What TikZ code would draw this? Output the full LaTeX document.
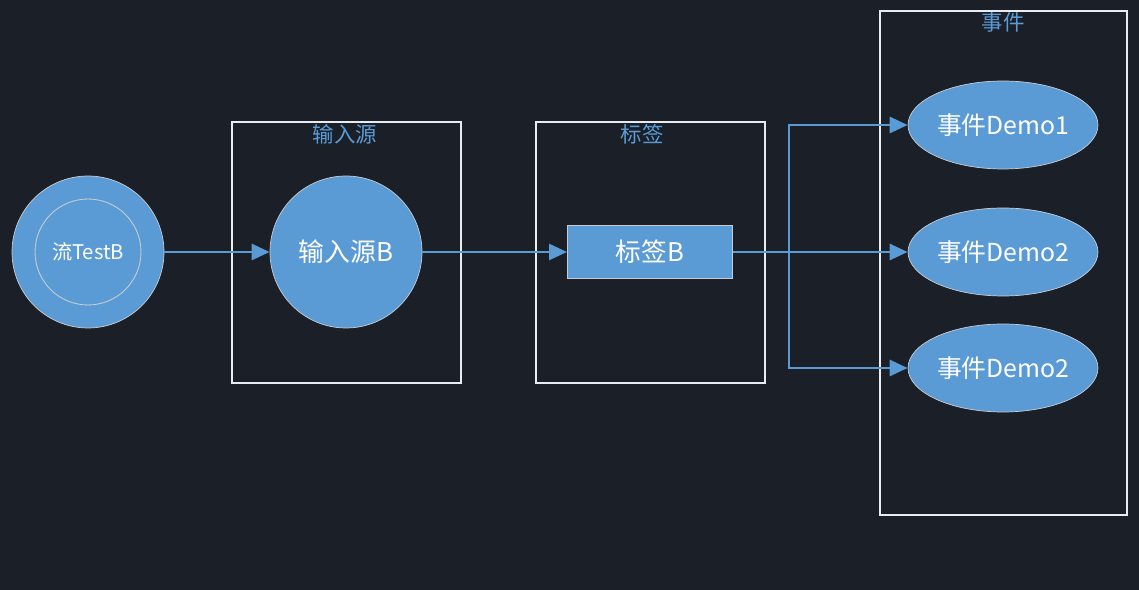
\documentclass[tikz,border=0pt]{standalone}
\usepackage{fontspec}
\setmainfont{Noto Sans CJK SC}
\usetikzlibrary{arrows.meta,shapes.geometric}
\definecolor{bgdark}{HTML}{1A1F28}
\definecolor{nodeblue}{HTML}{5B9BD5}
\definecolor{rimgray}{HTML}{C8CCD0}
\definecolor{framewhite}{HTML}{E8ECF0}
\tikzset{
  flow/.style={draw=nodeblue,line width=1.6pt,-{Triangle[length=0.36cm,width=0.32cm]}},
  group/.style={draw=framewhite,line width=1.2pt},
  grouptitle/.style={text=nodeblue,font=\fontsize{12.2}{14}\selectfont,inner sep=0pt},
  source/.style={circle,fill=nodeblue,draw=rimgray,line width=0.4pt,minimum size=3.04cm,inner sep=0pt,text=white},
  event/.style={ellipse,fill=nodeblue,draw=rimgray,line width=0.4pt,minimum width=3.8cm,minimum height=1.76cm,inner sep=0pt,text=white,font=\fontsize{14.1}{16}\selectfont},
  tagbox/.style={rectangle,fill=nodeblue,draw=rimgray,line width=0.6pt,minimum width=3.3cm,minimum height=1.06cm,inner sep=0pt,text=white,font=\fontsize{14.6}{16}\selectfont}
}
\begin{document}
\begin{tikzpicture}[x=0.02cm,y=-0.02cm]
  \fill[bgdark] (0,0) rectangle (1139,590);
  \useasboundingbox (0,0) rectangle (1139,590);
  % group frames
  \draw[group] (232,122) rectangle (461,383);
  \node[grouptitle] (inTitle) at (345,134) {输入源};
  \draw[group] (536,122) rectangle (765,383);
  \node[grouptitle] (tagTitle) at (642,134) {标签};
  \draw[group] (880,11) rectangle (1127,515);
  \node[grouptitle] (evtTitle) at (1003,22) {事件};
  % nodes
  \node[source] (stream) at (88,252) {};
  \node[circle,draw=rimgray,line width=0.5pt,minimum size=2.12cm,text=white,font=\fontsize{11.5}{13}\selectfont] (streamIn) at (88,252) {流TestB};
  \node[source,font=\fontsize{14.7}{16}\selectfont] (input) at (346,252) {输入源B};
  \node[tagbox] (tag) at (650,252) {标签B};
  \node[event] (evt1) at (1003,125) {事件Demo1};
  \node[event] (evt2) at (1003,252) {事件Demo2};
  \node[event] (evt3) at (1003,368) {事件Demo2};
  \coordinate (split) at (789,252);
  % connectors
  \draw[flow] (stream) -- (input);
  \draw[flow] (input) -- (tag);
  \draw[flow] (tag) -- (evt2);
  \draw[flow] (split) |- (evt1.west);
  \draw[flow] (split) |- (evt3.west);
\end{tikzpicture}
\end{document}
